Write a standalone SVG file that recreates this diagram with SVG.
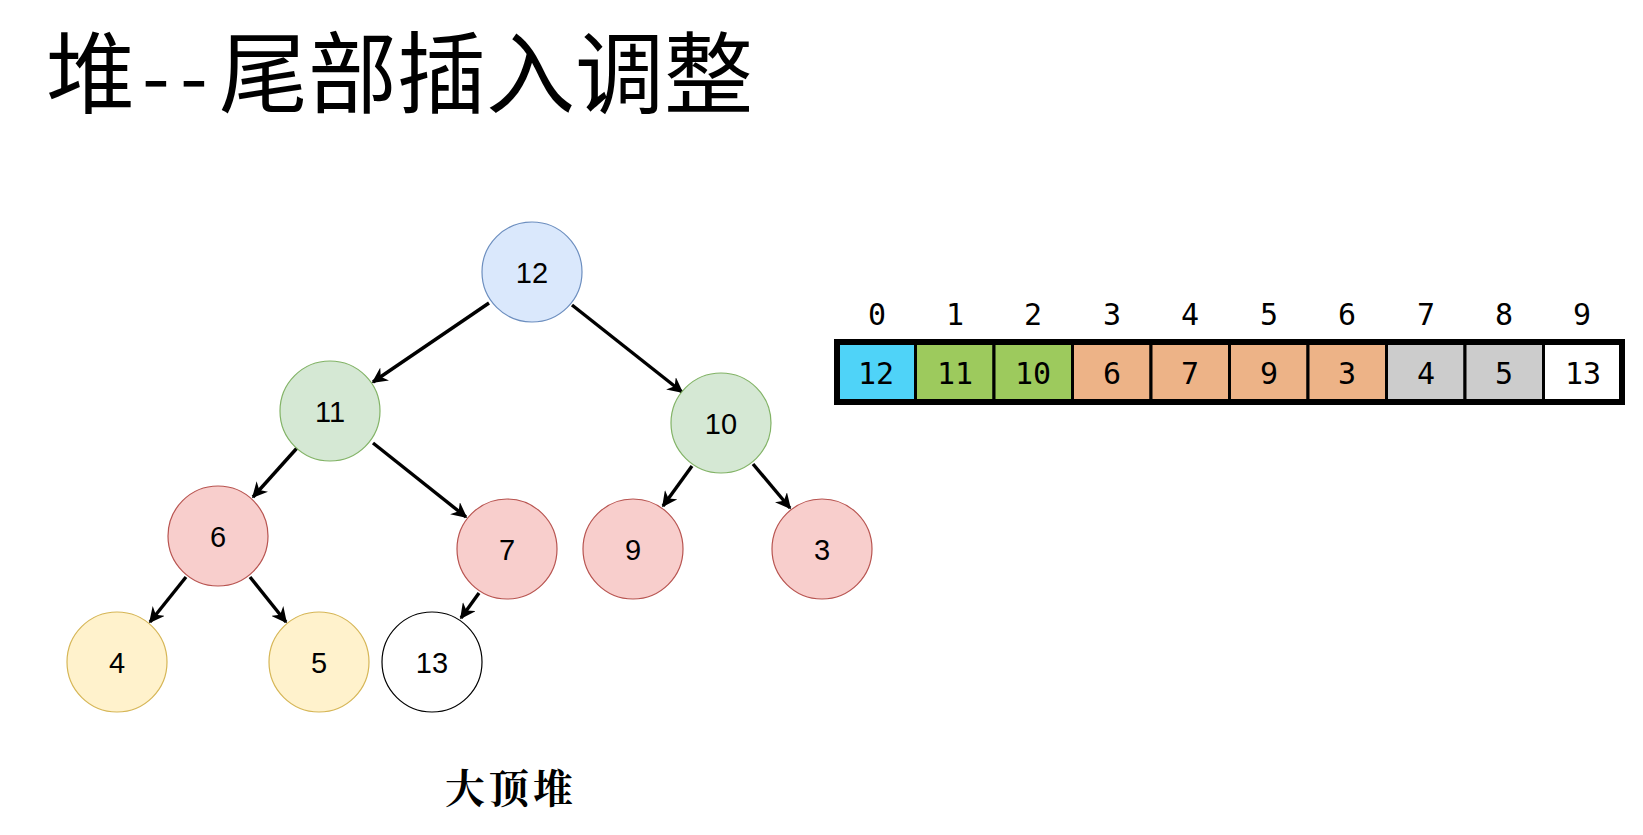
<svg xmlns="http://www.w3.org/2000/svg" width="1643" height="835" viewBox="0 0 1643 835">
<defs>
<marker id="arr" viewBox="0 0 10 10" refX="9" refY="5" markerWidth="4.6" markerHeight="4.6" markerUnits="strokeWidth" orient="auto">
<path d="M0,0 L10,5 L0,10 L3,5 Z" fill="#000"/>
</marker>
<style>
.n{stroke-width:1.2}
.blue{fill:#dae8fc;stroke:#6c8ebf}
.green{fill:#d5e8d4;stroke:#82b366}
.red{fill:#f8cecc;stroke:#b85450}
.yellow{fill:#fff2cc;stroke:#d6b656}
.white{fill:#fff;stroke:#000}
.t{font-family:"Liberation Sans",Arial,sans-serif;font-size:29px;fill:#000;text-anchor:middle;dominant-baseline:central}
.e{stroke:#000;stroke-width:3.4;fill:none;marker-end:url(#arr)}
.cell{stroke:#000;stroke-width:3}
.m{font-family:"DejaVu Sans Mono",monospace;font-size:30px;fill:#000;text-anchor:middle;dominant-baseline:central}
</style>
</defs>
<rect width="1643" height="835" fill="#fff"/>
<text y="106" font-family="Noto Sans CJK SC, sans-serif" font-size="89" font-weight="normal"><tspan x="46">堆</tspan><tspan x="142" font-size="80">-</tspan><tspan x="180" font-size="80">-</tspan><tspan x="219">尾部插入调整</tspan></text>

<g id="edges">
<line class="e" x1="489" y1="303" x2="373" y2="382"/>
<line class="e" x1="572" y1="305" x2="682" y2="392"/>
<line class="e" x1="297" y1="448" x2="253" y2="497"/>
<line class="e" x1="373" y1="443" x2="466" y2="517"/>
<line class="e" x1="692" y1="466" x2="663" y2="506"/>
<line class="e" x1="753" y1="464" x2="790" y2="508"/>
<line class="e" x1="186" y1="577" x2="150" y2="622"/>
<line class="e" x1="250" y1="577" x2="286" y2="622"/>
<line class="e" x1="479" y1="593" x2="461" y2="618"/>
</g>

<g id="n12"><circle class="n blue" cx="532" cy="272" r="50"/><text class="t" x="532" y="273">12</text></g>
<g id="n11"><circle class="n green" cx="330" cy="411" r="50"/><text class="t" x="330" y="412">11</text></g>
<g id="n10"><circle class="n green" cx="721" cy="423" r="50"/><text class="t" x="721" y="424">10</text></g>
<g id="n6"><circle class="n red" cx="218" cy="536" r="50"/><text class="t" x="218" y="537">6</text></g>
<g id="n7"><circle class="n red" cx="507" cy="549" r="50"/><text class="t" x="507" y="550">7</text></g>
<g id="n9"><circle class="n red" cx="633" cy="549" r="50"/><text class="t" x="633" y="550">9</text></g>
<g id="n3"><circle class="n red" cx="822" cy="549" r="50"/><text class="t" x="822" y="550">3</text></g>
<g id="n4"><circle class="n yellow" cx="117" cy="662" r="50"/><text class="t" x="117" y="663">4</text></g>
<g id="n5"><circle class="n yellow" cx="319" cy="662" r="50"/><text class="t" x="319" y="663">5</text></g>
<g id="n13"><circle class="n white" cx="432" cy="662" r="50"/><text class="t" x="432" y="663">13</text></g>

<g id="array">
<rect class="cell" x="837" y="342" width="78.5" height="60" fill="#4fd3f8"/>
<rect class="cell" x="915.5" y="342" width="78.5" height="60" fill="#9dca5d"/>
<rect class="cell" x="994" y="342" width="78.5" height="60" fill="#9dca5d"/>
<rect class="cell" x="1072.5" y="342" width="78.5" height="60" fill="#edb387"/>
<rect class="cell" x="1151" y="342" width="78.5" height="60" fill="#edb387"/>
<rect class="cell" x="1229.5" y="342" width="78.5" height="60" fill="#edb387"/>
<rect class="cell" x="1308" y="342" width="78.5" height="60" fill="#edb387"/>
<rect class="cell" x="1386.5" y="342" width="78.5" height="60" fill="#cccccc"/>
<rect class="cell" x="1465" y="342" width="78.5" height="60" fill="#cccccc"/>
<rect class="cell" x="1543.5" y="342" width="78.5" height="60" fill="#ffffff"/>
<rect x="837" y="342" width="785" height="60" fill="none" stroke="#000" stroke-width="6"/>
<text class="m" x="876" y="373">12</text>
<text class="m" x="955" y="373">11</text>
<text class="m" x="1033" y="373">10</text>
<text class="m" x="1112" y="373">6</text>
<text class="m" x="1190" y="373">7</text>
<text class="m" x="1269" y="373">9</text>
<text class="m" x="1347" y="373">3</text>
<text class="m" x="1426" y="373">4</text>
<text class="m" x="1504" y="373">5</text>
<text class="m" x="1583" y="373">13</text>
<text class="m" x="877" y="314" font-size="28">0</text>
<text class="m" x="955" y="314" font-size="28">1</text>
<text class="m" x="1033" y="314" font-size="28">2</text>
<text class="m" x="1112" y="314" font-size="28">3</text>
<text class="m" x="1190" y="314" font-size="28">4</text>
<text class="m" x="1269" y="314" font-size="28">5</text>
<text class="m" x="1347" y="314" font-size="28">6</text>
<text class="m" x="1426" y="314" font-size="28">7</text>
<text class="m" x="1504" y="314" font-size="28">8</text>
<text class="m" x="1582" y="314" font-size="28">9</text>
</g>

<text x="511" y="803" font-family="Noto Serif CJK SC, Noto Sans CJK SC, serif" font-size="40" font-weight="bold" text-anchor="middle" letter-spacing="4">大顶堆</text>
</svg>
